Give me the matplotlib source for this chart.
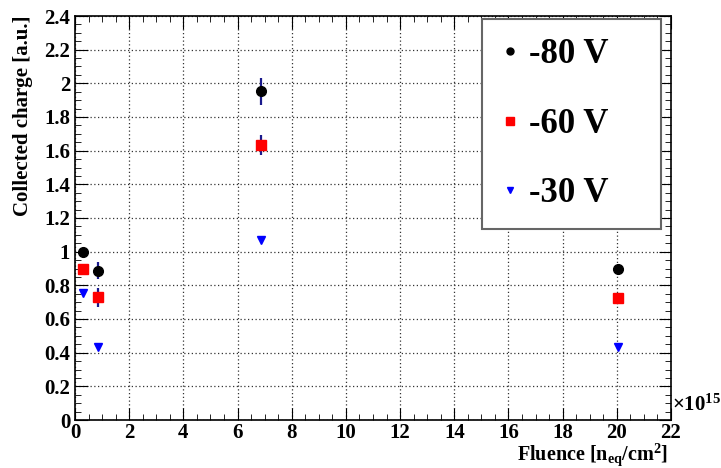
import matplotlib.pyplot as plt
from matplotlib.ticker import MultipleLocator
from matplotlib.lines import Line2D

plt.rcParams['font.family'] = ['Liberation Serif', 'DejaVu Serif']
plt.rcParams['font.weight'] = 'bold'
plt.rcParams['mathtext.fontset'] = 'custom'
plt.rcParams['mathtext.rm'] = 'Liberation Serif:bold'
plt.rcParams['mathtext.bf'] = 'Liberation Serif:bold'
plt.rcParams['mathtext.it'] = 'Liberation Serif:bold'

fluence = [0.3, 0.85, 6.87, 20.05]

q80 = [1.00, 0.887, 1.952, 0.90]
e80 = [0.0, 0.052, 0.082, 0.0]
q60 = [0.895, 0.729, 1.632, 0.725]
e60 = [0.0, 0.055, 0.06, 0.0]
q30 = [0.755, 0.435, 1.07, 0.435]
e30 = [0.0, 0.0, 0.0, 0.0]

labels = ["-80 V", "-60 V", "-30 V"]

fig = plt.figure(figsize=(7.21, 4.68), dpi=100)
ax = fig.add_axes([75/721, 48/468, 596/721, 404/468])

ax.errorbar(fluence, q80, yerr=e80, fmt='o', color='black', ecolor='#1a1a8c',
            elinewidth=1.6, markersize=7, zorder=3)
ax.errorbar(fluence, q60, yerr=e60, fmt='s', color='red', ecolor='#1a1a8c',
            elinewidth=1.6, markersize=7, zorder=3)
ax.errorbar(fluence, q30, yerr=e30, fmt='v', color='blue', ecolor='#1a1a8c',
            elinewidth=1.6, markersize=6, zorder=3)

ax.set_xlim(0, 22)
ax.set_ylim(0, 2.4)
ax.xaxis.set_major_locator(MultipleLocator(2))
ax.xaxis.set_minor_locator(MultipleLocator(0.5))
ax.yaxis.set_major_locator(MultipleLocator(0.2))
ax.yaxis.set_minor_locator(MultipleLocator(0.05))
ax.grid(True, which='major', linestyle=(0, (1, 2)), color='#333333', linewidth=0.9)

ax.tick_params(which='both', direction='in', top=True, right=True, labelsize=15)
ax.tick_params(which='major', length=9)
ax.tick_params(which='minor', length=4.5)
ax.tick_params(axis='x', pad=2)
ax.yaxis.set_major_formatter(plt.FuncFormatter(lambda v, p: ('%g' % round(v, 2))))
for lab in ax.get_xticklabels() + ax.get_yticklabels():
    lab.set_fontweight('bold')
for s in ax.spines.values():
    s.set_linewidth(1.2)

fig.text(668/721, 0, r"Fluence [n$_{\mathrm{eq}}$/cm$^{\mathrm{2}}$]", fontsize=14.5,
         fontweight='bold', ha='right', va='bottom')
ax.set_ylabel("Collected charge [a.u.]", fontsize=15, fontweight='bold',
              loc='top', labelpad=8)
ax.text(1.002, 0.01, r"$\times$10$^{\mathrm{15}}$", transform=ax.transAxes,
        fontsize=15, fontweight='bold', ha='left', va='bottom')

handles = [Line2D([], [], ls='none', marker='o', color='black', markersize=5),
           Line2D([], [], ls='none', marker='s', color='red', markersize=6),
           Line2D([], [], ls='none', marker='v', color='blue', markersize=5)]
leg = fig.legend(handles, labels, loc='upper left',
                 bbox_to_anchor=(482/721, 444/468, 179/721, 0.01), mode='expand',
                 prop={'size': 25, 'weight': 'bold'},
                 fancybox=False, shadow=False, edgecolor='#666666', framealpha=1,
                 borderpad=0.55, labelspacing=1.05, handlelength=0.5, handletextpad=0.3,
                 borderaxespad=0)
leg.get_frame().set_linewidth(1.5)

fig.savefig('out.png', dpi=100)
